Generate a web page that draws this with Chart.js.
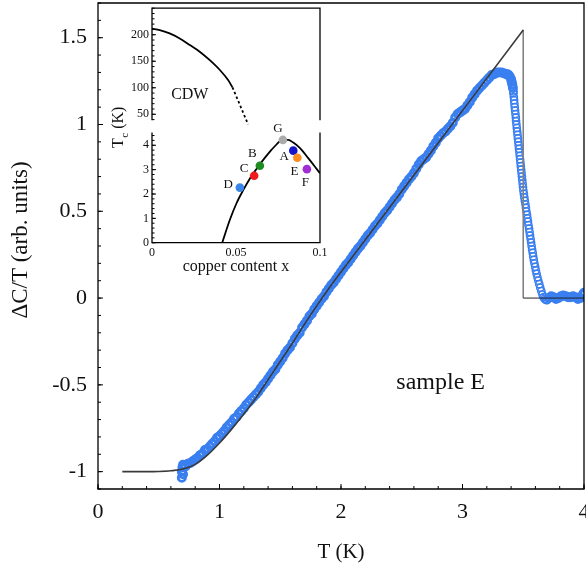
<!DOCTYPE html>
<html><head><meta charset="utf-8">
<script src="https://cdn.jsdelivr.net/npm/chart.js@4.4.1/dist/chart.umd.min.js"></script>
<style>
html,body{margin:0;padding:0;background:#fff;}
#wrap{position:relative;width:586px;height:567px;overflow:hidden;background:#fff;}
canvas{position:absolute;}
#main{left:0;top:0;}
#insetTop{left:100px;top:0px;}
#insetBot{left:100px;top:100px;}
</style></head><body>
<div id="wrap">
<canvas id="main" width="586" height="567"></canvas>
<canvas id="insetTop" width="230" height="127"></canvas>
<canvas id="insetBot" width="230" height="180"></canvas>
</div>
<script>
// ---------- main panel data ----------
const sampleT = [0.69,0.69,0.695,0.70,0.70,0.72,0.74,0.76,0.78,0.80,0.82,0.84,0.86,0.88,0.90,0.92,0.94,0.96,0.98,
1.00,1.02,1.04,1.06,1.08,1.10,1.12,1.14,1.16,1.18,1.20,1.22,1.24,1.26,1.28,1.30,1.32,1.34,1.36,1.38,
1.40,1.42,1.44,1.46,1.48,1.50,1.52,1.54,1.56,1.58,1.60,1.62,1.64,1.66,1.68,1.70,1.72,1.74,1.76,1.78,
1.80,1.82,1.84,1.86,1.88,1.90,1.92,1.94,1.96,1.98,2.00,2.02,2.04,2.06,2.08,2.10,2.12,2.14,2.16,2.18,
2.20,2.22,2.24,2.26,2.28,2.30,2.32,2.34,2.36,2.38,2.40,2.42,2.44,2.46,2.48,2.50,2.52,2.54,2.56,2.58,
2.60,2.62,2.64,2.66,2.68,2.70,2.72,2.74,2.76,2.78,2.80,2.82,2.84,2.86,2.88,2.90,2.92,2.94,2.96,2.98,
3.00,3.02,3.04,3.06,3.08,3.10,3.12,3.14,3.16,3.18,3.20,3.22,3.24,3.26,3.28,3.30,3.32,3.34,3.36,3.37,
3.38,3.39,3.40,3.405,3.41,3.415,3.42,
3.419,3.422,3.425,3.427,3.430,3.433,3.436,3.439,3.441,3.444,3.447,3.450,3.453,3.456,3.459,3.462,3.465,
3.468,3.471,3.474,3.477,3.480,3.483,3.486,3.489,3.492,3.495,3.498,3.501,3.505,3.509,3.513,3.518,3.522,
3.526,3.531,3.535,3.539,3.543,3.548,3.552,3.556,3.561,3.565,3.569,3.573,3.578,3.582,3.587,3.592,3.598,
3.604,3.610,3.617,3.624,3.632,3.640,3.649,3.658,3.667,3.676,3.686,3.696,
3.71,3.73,3.75,3.77,3.79,3.81,3.83,3.85,3.87,3.89,3.91,3.93,3.95,3.97,3.99,4.00];
const sampleDC = [-1.035,-1.0,-0.975,-1.015,-0.96,-0.97,-0.955,-0.95,-0.94,-0.93,-0.92,-0.905,-0.895,-0.875,-0.87,-0.855,-0.84,-0.825,-0.805,
-0.795,-0.78,-0.765,-0.745,-0.73,-0.715,-0.695,-0.685,-0.665,-0.65,-0.635,-0.615,-0.60,-0.585,-0.57,-0.555,-0.54,-0.52,-0.50,-0.485,
-0.465,-0.445,-0.425,-0.41,-0.385,-0.365,-0.345,-0.32,-0.30,-0.285,-0.26,-0.235,-0.215,-0.20,-0.17,-0.15,-0.13,-0.105,-0.09,-0.065,
-0.045,-0.025,-0.005,0.01,0.035,0.055,0.075,0.09,0.11,0.13,0.15,0.17,0.19,0.205,0.225,0.245,0.265,0.285,0.30,0.32,
0.34,0.36,0.375,0.395,0.415,0.43,0.45,0.47,0.49,0.505,0.525,0.545,0.565,0.58,0.60,0.625,0.645,0.665,0.685,0.70,
0.72,0.745,0.77,0.79,0.80,0.81,0.83,0.85,0.875,0.895,0.92,0.935,0.95,0.96,0.975,0.99,1.01,1.04,1.06,1.07,
1.08,1.09,1.11,1.13,1.155,1.175,1.195,1.21,1.225,1.24,1.255,1.27,1.285,1.29,1.30,1.30,1.30,1.295,1.29,1.29,
1.285,1.275,1.26,1.245,1.23,1.21,1.19,
1.18,1.16,1.14,1.12,1.10,1.08,1.06,1.04,1.02,1.00,0.98,0.96,0.94,0.92,0.90,0.88,0.86,
0.84,0.82,0.80,0.78,0.76,0.74,0.72,0.70,0.68,0.66,0.64,0.62,0.60,0.58,0.56,0.54,0.52,
0.50,0.48,0.46,0.44,0.42,0.40,0.38,0.36,0.34,0.32,0.30,0.28,0.26,0.24,0.22,0.20,0.18,
0.16,0.14,0.12,0.10,0.08,0.06,0.04,0.02,0.005,-0.005,-0.01,-0.012,
0.0,0.01,0.005,-0.005,0.0,0.01,0.015,0.01,0.005,0.005,0.01,0.005,-0.005,0.0,0.02,0.03];

const fitT  = [0.2,0.3,0.4,0.5,0.6,0.7,0.8,0.9,1.0,1.1,1.2,1.3,1.4,1.5,1.6,1.7,1.8,1.9,2.0,2.5,3.0,3.5];
const fitDC = [-1.0,-1.0,-1.0,-0.999,-0.995,-0.985,-0.958,-0.905,-0.835,-0.755,-0.668,-0.575,-0.47,-0.365,-0.26,-0.15,-0.045,0.055,0.15,0.615,1.08,1.545];
const jumpT  = [3.5,3.5,4.0];
const jumpDC = [1.545,0,0];

const xTickValues = [0,1,2,3,4];
const xTickLabels = ['0','1','2','3','4'];
const yTickValues = [-1,-0.5,0,0.5,1,1.5];
const yTickLabels = ['-1','-0.5','0','0.5','1','1.5'];

// ---------- inset data ----------
const cdwX  = [0,0.0046,0.0105,0.0165,0.0225,0.0284,0.0344,0.0404,0.0453,0.0479];
const cdwTc = [211.3,208.8,202.5,193,180.5,168,152,133.5,114.6,100.8];
const cdwDashX  = [0.0479,0.0572];
const cdwDashTc = [100.8,31];
const domeX  = [0.0418,0.0463,0.0503,0.0543,0.0583,0.0622,0.0662,0.0702,0.0742,0.0777,0.0811,0.0841,0.0881,0.093,0.097,0.1];
const domeTc = [0,0.93,1.62,2.16,2.64,3.03,3.40,3.74,4.04,4.22,4.22,4.11,3.88,3.47,3.12,2.85];
const sampleNames  = ['A','B','C','D','E','F','G'];
const sampleX      = [0.0841,0.0642,0.0608,0.0523,0.0865,0.0922,0.0779];
const sampleTc     = [3.78,3.16,2.75,2.26,3.49,3.02,4.22];
const sampleColors = ['#1414c8','#1e8c1e','#ee1c1c','#3a86e8','#ff8c1e','#a02ed2','#aaaaaa'];
const insetXTicks = [0,0.05,0.1];
const insetXLabels = ['0','0.05','0.1'];
const cdwTicks = [50,100,150,200];
const tcTicks = [0,1,2,3,4];

const pts = (xs, ys) => xs.map((x,i)=>({x:x, y:ys[i]}));
const seq = (a,b,d) => { const out=[]; for(let i=Math.round(a/d); i<=Math.round(b/d); i++) out.push(+(i*d).toFixed(6)); return out; };

const SERIF = "'Liberation Serif','Times New Roman',serif";
Chart.defaults.font.family = SERIF;
Chart.defaults.color = '#111';
Chart.defaults.animation = false;

const framePlugin = {
  id: 'frame',
  beforeDatasetsDraw(chart, args, o) {
    if (!o.fill) return;
    const {ctx, chartArea:a} = chart;
    ctx.save(); ctx.fillStyle='#fff'; ctx.fillRect(a.left,a.top,a.right-a.left,a.bottom-a.top); ctx.restore();
  },
  afterDatasetsDraw(chart, args, o) {
    const {ctx, chartArea:a} = chart;
    ctx.save();
    ctx.strokeStyle = '#000'; ctx.lineWidth = o.lineWidth || 1.3; ctx.lineCap = 'square';
    const s = o.sides || {};
    ctx.beginPath();
    if (s.top)    { ctx.moveTo(a.left,a.top);    ctx.lineTo(a.right,a.top); }
    if (s.bottom) { ctx.moveTo(a.left,a.bottom); ctx.lineTo(a.right,a.bottom); }
    if (s.left)   { ctx.moveTo(a.left,a.top);    ctx.lineTo(a.left,a.bottom); }
    if (s.right)  { ctx.moveTo(a.right,a.top);   ctx.lineTo(a.right,a.bottom); }
    ctx.stroke();
    ctx.lineWidth = o.tickWidth || 1; ctx.lineCap = 'butt';
    for (const t of (o.ticks || [])) {
      const sc = chart.scales[t.axis];
      const draw = (v, len) => {
        const p = sc.getPixelForValue(v);
        ctx.beginPath();
        if (t.axis === 'x') { ctx.moveTo(p, a.bottom); ctx.lineTo(p, a.bottom - len); }
        else { ctx.moveTo(a.left, p); ctx.lineTo(a.left + len, p); }
        ctx.stroke();
      };
      t.minor.forEach(v => draw(v, t.minorLen));
      t.major.forEach(v => draw(v, t.majorLen));
    }
    for (const tx of (o.texts || [])) {
      const x = chart.scales.x.getPixelForValue(tx.x) + (tx.dx || 0);
      const y = chart.scales.y.getPixelForValue(tx.y) + (tx.dy || 0);
      ctx.font = tx.font; ctx.fillStyle = '#111'; ctx.textAlign = 'center'; ctx.textBaseline = 'middle';
      ctx.fillText(tx.text, x, y);
    }
    ctx.restore();
  },
  afterDraw(chart, args, o) {
    const t = o.axisTitle; if (!t) return;
    const ctx = chart.ctx; ctx.save();
    ctx.translate(t.px, t.py); ctx.rotate(-Math.PI/2);
    ctx.font = t.font; ctx.fillStyle = '#111'; ctx.textAlign = 'center'; ctx.textBaseline = 'middle';
    ctx.fillText(t.text, 0, 0);
    ctx.restore();
  }
};

// ---------- main chart ----------
new Chart(document.getElementById('main'), {
  type: 'scatter',
  data: { datasets: [
    { label:'fit', data: pts(fitT, fitDC), showLine:true, borderColor:'#3a3a3a', borderWidth:1.6,
      pointRadius:0, cubicInterpolationMode:'monotone', order:0 },
    { label:'jump', data: pts(jumpT, jumpDC), showLine:true, borderColor:'#222', borderWidth:1,
      pointRadius:0, order:1, segment:{ borderColor: c => c.p0DataIndex === 0 ? '#808080' : '#222' } },
    { label:'sample E', data: pts(sampleT, sampleDC), showLine:false, pointRadius:3.6,
      borderWidth: c => (c.raw && c.raw.x > 3.415 && c.raw.x < 3.7) ? 1.5 : 2.8,
      borderColor:'#3a7ff0', backgroundColor:'rgba(0,0,0,0)', order:2 }
  ]},
  options: {
    responsive:false, animation:false, events:[],
    layout:{ autoPadding:false, padding:{ left:0, right:2, top:3, bottom:0 } },
    plugins:{
      legend:{display:false}, tooltip:{enabled:false},
      frame:{
        sides:{top:true,bottom:true,left:true,right:true}, lineWidth:1.3,
        ticks:[
          { axis:'x', major:xTickValues, minor:seq(0,4,0.2), majorLen:5, minorLen:3 },
          { axis:'y', major:yTickValues, minor:seq(-1.1,1.7,0.1), majorLen:5, minorLen:3 }
        ],
        texts:[ { text:'sample E', x:2.82, y:-0.49, font:"24px " + SERIF } ],
        axisTitle:{ text:'ΔC/T (arb. units)', px:21, py:240, font:"23px " + SERIF }
      }
    },
    scales:{
      x:{ type:'linear', min:0, max:4,
        grid:{display:false, drawTicks:false}, border:{display:false},
        ticks:{ padding:10, font:{size:22}, callback:(v)=>{ const i = xTickValues.indexOf(v); return i>=0 ? xTickLabels[i] : ''; } },
        title:{ display:true, text:'T (K)', font:{size:21}, padding:{top:0,bottom:2.4} },
        afterBuildTicks:(s)=>{ s.ticks = xTickValues.map(v=>({value:v})); },
        afterFit:(s)=>{ s.height = 78; s.paddingLeft = 0; s.paddingRight = 0; } },
      y:{ type:'linear', min:-1.1, max:1.7,
        grid:{display:false, drawTicks:false}, border:{display:false},
        ticks:{ padding:11, font:{size:22}, callback:(v)=>{ const i = yTickValues.indexOf(v); return i>=0 ? yTickLabels[i] : ''; } },
        title:{ display:false, text:'ΔC/T (arb. units)' },
        afterBuildTicks:(s)=>{ s.ticks = yTickValues.map(v=>({value:v})); },
        afterFit:(s)=>{ s.width = 98; s.paddingTop = 0; s.paddingBottom = 0; } }
    }
  },
  plugins:[framePlugin]
});

// ---------- inset, upper (CDW) panel ----------
new Chart(document.getElementById('insetTop'), {
  type: 'scatter',
  data: { datasets: [
    { data: pts(cdwX, cdwTc), showLine:true, borderColor:'#000', borderWidth:1.8, pointRadius:0, cubicInterpolationMode:'monotone' },
    { data: pts(cdwDashX, cdwDashTc), showLine:true, borderColor:'#000', borderWidth:1.8, borderDash:[2.5,2.5], pointRadius:0, clip:false }
  ]},
  options: {
    responsive:false, animation:false, events:[],
    layout:{ autoPadding:false, padding:{ left:0, right:10, top:8.2, bottom:7.4 } },
    plugins:{
      legend:{display:false}, tooltip:{enabled:false},
      frame:{
        fill:true, sides:{top:true,left:true,right:true}, lineWidth:1.3,
        ticks:[ { axis:'y', major:cdwTicks, minor:seq(40,250,10), majorLen:4, minorLen:2.5 } ],
        texts:[ { text:'CDW', x:0.0225, y:86, font:"16px " + SERIF } ]
      }
    },
    scales:{
      x:{ type:'linear', min:0, max:0.1, display:false },
      y:{ type:'linear', min:40, max:250,
        grid:{display:false, drawTicks:false}, border:{display:false},
        ticks:{ padding:3, font:{size:12} },
        afterBuildTicks:(s)=>{ s.ticks = cdwTicks.map(v=>({value:v})); },
        afterFit:(s)=>{ s.width = 52; s.paddingTop = 0; s.paddingBottom = 0; } }
    }
  },
  plugins:[framePlugin]
});

// ---------- inset, lower (Tc) panel ----------
const labelOffsets = { A:[-9,5.6], B:[-7.5,-12], C:[-10,-7.4], D:[-11.7,-2.7], E:[-2.8,13.5], F:[-1.5,13.7], G:[-5,-11.7] };
const tcTitle = {
  id:'tcTitle',
  afterDraw(chart){
    const ctx = chart.ctx; ctx.save();
    ctx.translate(23, 48); ctx.rotate(-Math.PI/2);
    ctx.fillStyle = '#111'; ctx.textBaseline = 'alphabetic'; ctx.textAlign = 'left';
    ctx.font = "16px " + SERIF; ctx.fillText('T', 0, 0);
    let w = ctx.measureText('T').width + 0.5;
    ctx.font = "11px " + SERIF; ctx.fillText('c', w, 5);
    w += ctx.measureText('c').width;
    ctx.font = "16px " + SERIF; ctx.fillText(' (K)', w, 0);
    ctx.restore();
  }
};
new Chart(document.getElementById('insetBot'), {
  type: 'scatter',
  data: { datasets: [
    { data: pts(sampleX, sampleTc), showLine:false, pointRadius:4.3, borderWidth:0,
      backgroundColor: sampleColors, order:0 },
    { data: pts(domeX, domeTc), showLine:true, borderColor:'#000', borderWidth:1.8, pointRadius:0,
      cubicInterpolationMode:'monotone', order:1 }
  ]},
  options: {
    responsive:false, animation:false, events:[],
    layout:{ autoPadding:false, padding:{ left:0, right:10, top:33.1, bottom:0 } },
    plugins:{
      legend:{display:false}, tooltip:{enabled:false},
      frame:{
        fill:true, sides:{bottom:true,left:true,right:true}, lineWidth:1.3,
        ticks:[ { axis:'y', major:tcTicks, minor:seq(0,4.4,0.2), majorLen:4, minorLen:2.5 } ],
        texts: sampleNames.map((n,i)=>({ text:n, x:sampleX[i], y:sampleTc[i], dx:labelOffsets[n][0], dy:labelOffsets[n][1], font:"13px " + SERIF }))
      }
    },
    scales:{
      x:{ type:'linear', min:0, max:0.1,
        grid:{display:false, drawTicks:false}, border:{display:false},
        ticks:{ padding:2.8, font:{size:12}, callback:(v)=>{ const i = insetXTicks.indexOf(v); return i>=0 ? insetXLabels[i] : ''; } },
        title:{ display:true, text:'copper content x', font:{size:16}, padding:{top:0,bottom:3.7} },
        afterBuildTicks:(s)=>{ s.ticks = insetXTicks.map(v=>({value:v})); },
        afterFit:(s)=>{ s.height = 37.3; s.paddingLeft = 0; s.paddingRight = 0; } },
      y:{ type:'linear', min:0, max:4.5,
        grid:{display:false, drawTicks:false}, border:{display:false},
        ticks:{ padding:3, font:{size:12} },
        afterBuildTicks:(s)=>{ s.ticks = tcTicks.map(v=>({value:v})); },
        afterFit:(s)=>{ s.width = 52; s.paddingTop = 0; s.paddingBottom = 0; } }
    }
  },
  plugins:[framePlugin, tcTitle]
});
</script>
</body></html>
